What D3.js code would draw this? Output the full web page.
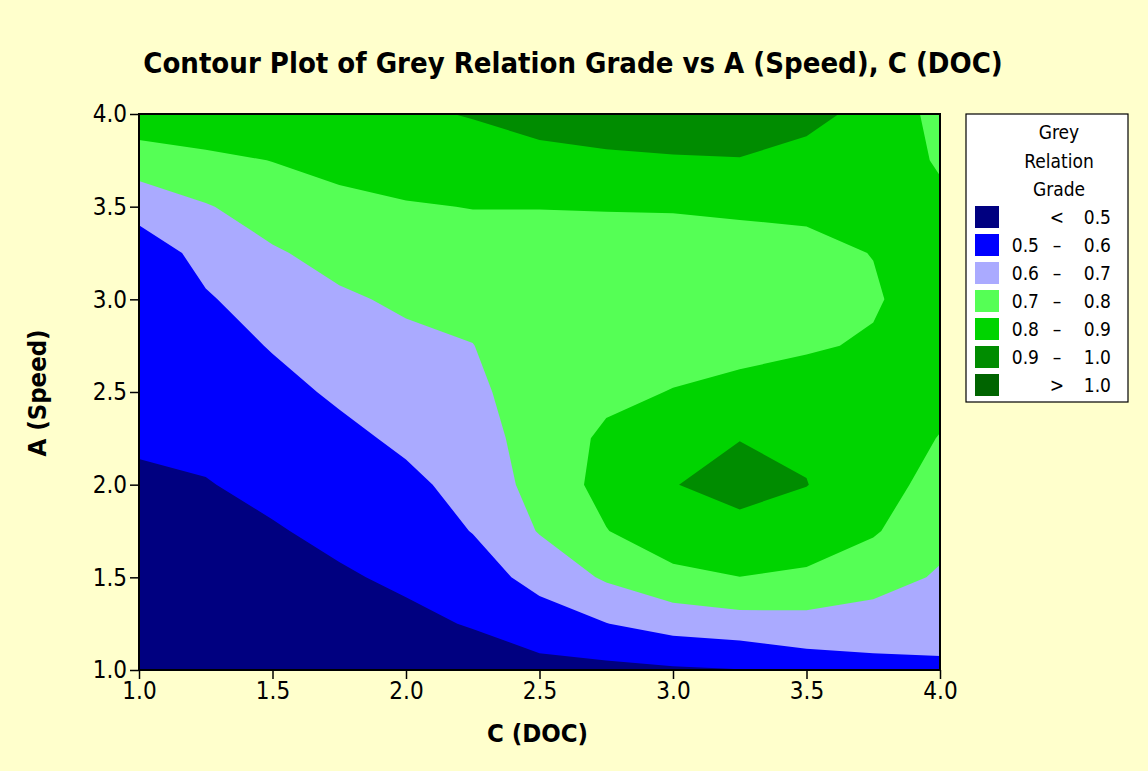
<!DOCTYPE html>
<html>
<head>
<meta charset="utf-8">
<script src="https://cdn.jsdelivr.net/npm/d3@7"></script>
<style>
  body { margin: 0; background: #ffffcc; }
  svg { display: block; }
  text { font-family: "DejaVu Sans Condensed", "DejaVu Sans", sans-serif; fill: #000; }
</style>
</head>
<body>
<svg id="drawing_region"></svg>
<script>
// grid of C (DOC) columns and A (Speed) rows
const cDoc   = [1.0, 1.25, 1.5, 1.75, 2.0, 2.25, 2.5, 2.75, 3.0, 3.25, 3.5, 3.75, 4.0];
const aSpeed = [1.0, 1.25, 1.5, 1.75, 2.0, 2.25, 2.5, 2.75, 3.0, 3.25, 3.5, 3.75, 4.0];

// grey relation grade, one row per A value (A = 1.0 first), one entry per C value
const gradeRows = [
  [0.420, 0.420, 0.430, 0.440, 0.450, 0.455, 0.470, 0.475, 0.488, 0.497, 0.544, 0.568, 0.584],
  [0.440, 0.440, 0.450, 0.460, 0.480, 0.506, 0.553, 0.598, 0.639, 0.659, 0.666, 0.657, 0.637],
  [0.460, 0.460, 0.465, 0.490, 0.515, 0.556, 0.632, 0.713, 0.774, 0.799, 0.784, 0.739, 0.690],
  [0.480, 0.480, 0.493, 0.520, 0.549, 0.603, 0.706, 0.797, 0.862, 0.874, 0.855, 0.810, 0.727],
  [0.495, 0.496, 0.521, 0.550, 0.582, 0.627, 0.740, 0.830, 0.897, 0.930, 0.902, 0.845, 0.762],
  [0.504, 0.520, 0.548, 0.580, 0.615, 0.651, 0.750, 0.815, 0.885, 0.898, 0.888, 0.860, 0.796],
  [0.513, 0.543, 0.576, 0.612, 0.647, 0.676, 0.758, 0.781, 0.803, 0.829, 0.842, 0.855, 0.830],
  [0.522, 0.566, 0.605, 0.649, 0.680, 0.698, 0.766, 0.765, 0.770, 0.770, 0.790, 0.810, 0.845],
  [0.531, 0.590, 0.647, 0.687, 0.714, 0.734, 0.774, 0.760, 0.755, 0.765, 0.770, 0.790, 0.850],
  [0.540, 0.633, 0.690, 0.730, 0.754, 0.768, 0.785, 0.775, 0.770, 0.775, 0.780, 0.802, 0.840],
  [0.640, 0.693, 0.744, 0.777, 0.794, 0.802, 0.801, 0.803, 0.805, 0.810, 0.815, 0.830, 0.820],
  [0.748, 0.779, 0.802, 0.826, 0.839, 0.854, 0.870, 0.882, 0.890, 0.895, 0.870, 0.855, 0.790],
  [0.867, 0.870, 0.870, 0.880, 0.885, 0.906, 0.938, 0.957, 0.970, 0.970, 0.928, 0.870, 0.770]
];

const levels     = [0.5, 0.6, 0.7, 0.8, 0.9, 1.0];
const bandColors = ["#000080", "#0000ff", "#aaaaff", "#55ff55", "#00d400", "#008c00", "#006400"];
const legendRows = [
  ["",    "<", "0.5"],
  ["0.5", "–", "0.6"],
  ["0.6", "–", "0.7"],
  ["0.7", "–", "0.8"],
  ["0.8", "–", "0.9"],
  ["0.9", "–", "1.0"],
  ["",    ">", "1.0"]
];
const legendTitle = ["Grey", "Relation", "Grade"];
const tickValues  = [1.0, 1.5, 2.0, 2.5, 3.0, 3.5, 4.0];

const W = 1148, H = 771;
const plot = {left: 139, right: 940, top: 114, bottom: 670};

const svg = d3.select("#drawing_region")
    .attr("width", W)
    .attr("height", H);

svg.append("rect")
    .attr("width", W).attr("height", H)
    .attr("fill", "#ffffcc");

const xscale = d3.scaleLinear().domain([1, 4]).range([plot.left, plot.right]);
const yscale = d3.scaleLinear().domain([1, 4]).range([plot.bottom, plot.top]);

// d3.contours puts value i at grid coordinate i + 0.5
const nx = cDoc.length, ny = aSpeed.length;
const gx = d3.scaleLinear().domain([0.5, nx - 0.5]).range([cDoc[0], cDoc[nx - 1]]);
const gy = d3.scaleLinear().domain([0.5, ny - 0.5]).range([aSpeed[0], aSpeed[ny - 1]]);

const project = d3.geoTransform({
    point: function(px, py) { this.stream.point(xscale(gx(px)), yscale(gy(py))); }
});
const path = d3.geoPath(project);

const contours = d3.contours()
    .size([nx, ny])
    .thresholds(levels)
    (gradeRows.flat());

svg.append("clipPath").attr("id", "plot_clip")
  .append("rect")
    .attr("x", plot.left).attr("y", plot.top)
    .attr("width", plot.right - plot.left)
    .attr("height", plot.bottom - plot.top);

const chart = svg.append("g").attr("clip-path", "url(#plot_clip)");

// lowest band as background, then each level on top
chart.append("rect")
    .attr("x", plot.left).attr("y", plot.top)
    .attr("width", plot.right - plot.left)
    .attr("height", plot.bottom - plot.top)
    .attr("fill", bandColors[0]);

chart.selectAll("path.band")
    .data(contours)
    .enter()
    .append("path")
    .attr("class", "band")
    .attr("d", path)
    .attr("fill", (d, i) => bandColors[i + 1])
    .attr("stroke", "none");

// frame
svg.append("rect")
    .attr("x", plot.left).attr("y", plot.top)
    .attr("width", plot.right - plot.left)
    .attr("height", plot.bottom - plot.top)
    .attr("fill", "none")
    .attr("stroke", "#000")
    .attr("stroke-width", 2);

// axes
const xaxis = d3.axisBottom(xscale).tickValues(tickValues).tickFormat(d3.format(".1f")).tickSize(9).tickPadding(3);
const yaxis = d3.axisLeft(yscale).tickValues(tickValues).tickFormat(d3.format(".1f")).tickSize(9).tickPadding(3);

const xg = svg.append("g").attr("transform", `translate(0, ${plot.bottom})`).call(xaxis);
const yg = svg.append("g").attr("transform", `translate(${plot.left}, 0)`).call(yaxis);

[xg, yg].forEach(g => {
    g.select(".domain").remove();
    g.selectAll(".tick line").attr("stroke", "#000").attr("stroke-width", 1.5);
    g.selectAll(".tick text")
        .attr("font-family", "'DejaVu Sans Condensed', 'DejaVu Sans', sans-serif")
        .attr("font-size", 24)
        .attr("fill", "#000");
});

// titles
svg.append("text")
    .attr("x", 573).attr("y", 73)
    .attr("text-anchor", "middle")
    .attr("font-size", 29)
    .attr("font-weight", "bold")
    .text("Contour Plot of Grey Relation Grade vs A (Speed), C (DOC)");

svg.append("text")
    .attr("x", (plot.left + plot.right) / 2 - 2).attr("y", 742)
    .attr("text-anchor", "middle")
    .attr("font-size", 25.5)
    .attr("font-weight", "bold")
    .text("C (DOC)");

svg.append("text")
    .attr("transform", `translate(46, ${(plot.top + plot.bottom) / 2 + 1}) rotate(-90)`)
    .attr("text-anchor", "middle")
    .attr("font-size", 25.5)
    .attr("font-weight", "bold")
    .text("A (Speed)");

// legend
const legend = svg.append("g");

legend.append("rect")
    .attr("x", 966).attr("y", 114)
    .attr("width", 162).attr("height", 288)
    .attr("fill", "#fff")
    .attr("stroke", "#000")
    .attr("stroke-width", 1.2);

legend.selectAll("text.ltitle")
    .data(legendTitle)
    .enter()
    .append("text")
    .attr("class", "ltitle")
    .attr("x", 1059)
    .attr("y", (d, i) => 139 + i * 28.5)
    .attr("text-anchor", "middle")
    .attr("font-size", 19)
    .text(d => d);

const rows = legend.selectAll("g.lrow")
    .data(legendRows)
    .enter()
    .append("g")
    .attr("class", "lrow")
    .attr("transform", (d, i) => `translate(0, ${206 + i * 28})`);

rows.append("rect")
    .attr("x", 975).attr("y", 0)
    .attr("width", 24).attr("height", 22)
    .attr("fill", (d, i) => bandColors[i]);

rows.append("text")
    .attr("x", 1039).attr("y", 18)
    .attr("text-anchor", "end")
    .attr("font-size", 19)
    .text(d => d[0]);

rows.append("text")
    .attr("x", 1057).attr("y", 18)
    .attr("text-anchor", "middle")
    .attr("font-size", 19)
    .text(d => d[1]);

rows.append("text")
    .attr("x", 1111).attr("y", 18)
    .attr("text-anchor", "end")
    .attr("font-size", 19)
    .text(d => d[2]);
</script>
</body>
</html>
